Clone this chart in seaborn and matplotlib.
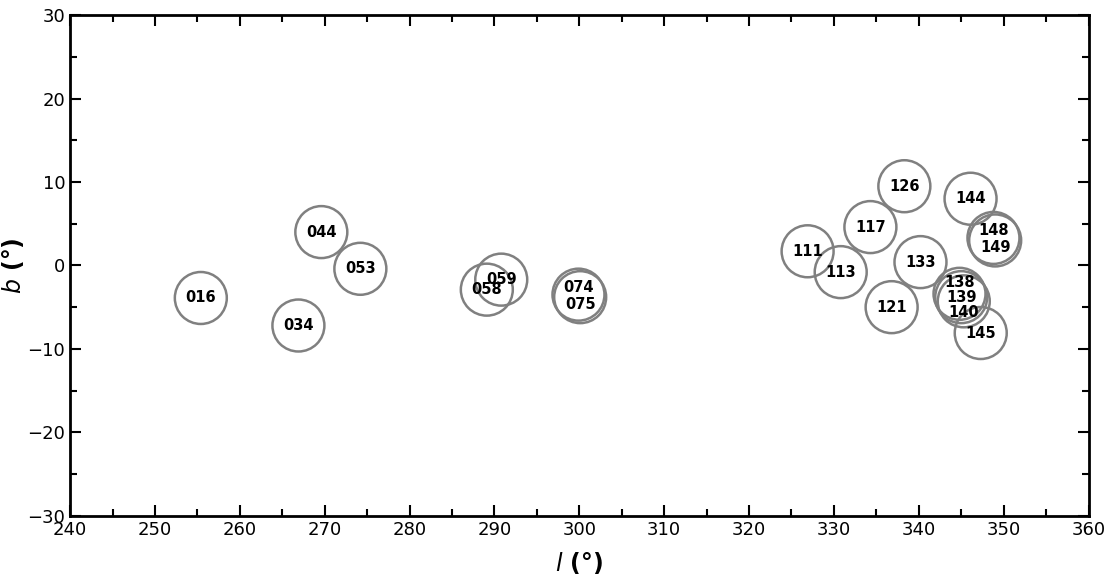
import matplotlib
matplotlib.use("Agg")
import matplotlib.pyplot as plt
import seaborn as sns
import pandas as pd
from matplotlib.ticker import MultipleLocator

# field ids and galactic coordinates (deg)
fields = ["016", "034", "044", "053", "058", "059", "074", "075",
          "111", "113", "117", "121", "126", "133", "138", "139", "140",
          "144", "145", "148", "149"]
l_deg = [255.4, 266.9, 269.6, 274.2, 289.1, 290.8, 299.9, 300.1,
         326.9, 330.8, 334.3, 336.8, 338.3, 340.2, 344.8, 345.0, 345.3,
         346.1, 347.3, 348.8, 349.0]
b_deg = [-3.9, -7.2, 4.0, -0.4, -2.9, -1.7, -3.5, -3.8,
         1.7, -0.8, 4.6, -5.0, 9.5, 0.4, -3.4, -3.8, -4.3,
         8.0, -8.1, 3.3, 3.0]

# vertical label offsets (points) so stacked ids stay readable
lab_dy = {"074": 5, "075": -5, "138": 8, "139": 0, "140": -8,
          "148": 5, "149": -5}

df = pd.DataFrame({"field": fields, "l": l_deg, "b": b_deg})

sns.set_style("ticks")
plt.rcParams["font.family"] = ["DejaVu Sans"]
plt.rcParams["text.color"] = "black"
plt.rcParams["axes.labelcolor"] = "black"
plt.rcParams["xtick.color"] = "black"
plt.rcParams["ytick.color"] = "black"
plt.rcParams["axes.edgecolor"] = "black"

fig = plt.figure(figsize=(11.13, 5.86), dpi=100)
ax = fig.add_axes([0.063, 0.12, 0.915, 0.854])

sns.scatterplot(data=df, x="l", y="b", ax=ax, s=1400, marker="o",
                facecolor="none", edgecolor="#808080", linewidth=1.8,
                legend=False)

for f, x, y in zip(fields, l_deg, b_deg):
    ax.annotate(f, (x, y), xytext=(0, lab_dy.get(f, 0)), textcoords="offset points",
                ha="center", va="center", fontsize=10.5, fontweight="bold", color="black")

ax.set_xlim(240, 360)
ax.set_ylim(-30, 30)
ax.xaxis.set_major_locator(MultipleLocator(10))
ax.xaxis.set_minor_locator(MultipleLocator(5))
ax.yaxis.set_major_locator(MultipleLocator(10))
ax.yaxis.set_minor_locator(MultipleLocator(5))
ax.tick_params(which="both", direction="in", top=True, right=True, labelsize=13, width=1.5)
ax.tick_params(which="major", length=8)
ax.tick_params(which="minor", length=5)
for sp in ax.spines.values():
    sp.set_linewidth(2)
    sp.set_visible(True)

ax.set_xlabel(r"$l$ (°)", fontsize=17, fontweight="bold", labelpad=8)
ax.set_ylabel(r"$b$ (°)", fontsize=17, fontweight="bold")
ax.yaxis.set_label_coords(-0.043, 0.5)

fig.savefig("out.png", dpi=100)
